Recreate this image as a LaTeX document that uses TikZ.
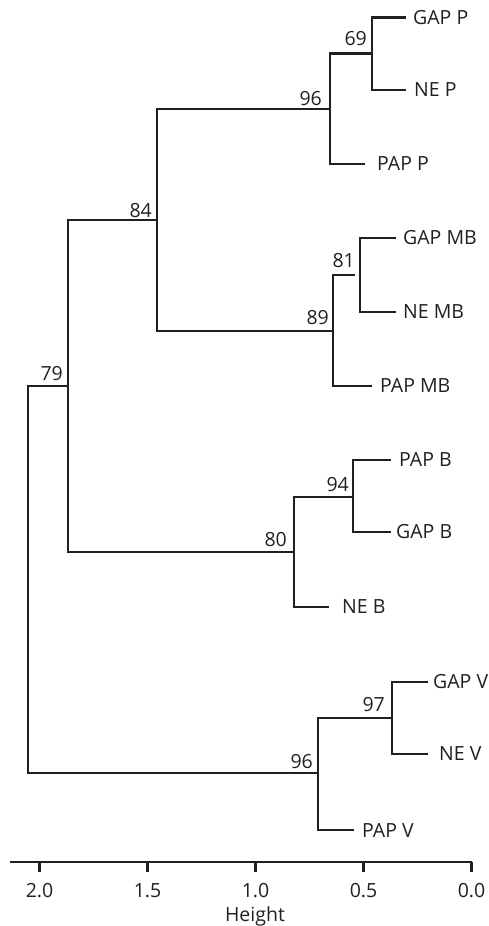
\documentclass[tikz,border=0pt]{standalone}
\usepackage{fontspec}
\setmainfont{Open Sans}
\definecolor{ink}{HTML}{231F20}
\begin{document}
\begin{tikzpicture}[x=1pt,y=-1pt,
  branch/.style={line width=2.8pt,line cap=rect,line join=miter,color=ink},
  leaf/.style={anchor=west,inner sep=0pt,font=\fontsize{19.5}{21}\selectfont,text=ink},
  boot/.style={anchor=base east,inner sep=0pt,font=\fontsize{19.5}{21}\selectfont,text=ink},
  tick/.style={anchor=base,inner sep=0pt,font=\fontsize{19.5}{21}\selectfont,text=ink}]
\useasboundingbox (0,0) rectangle (489,926);
% internal nodes
\coordinate (root) at (28,386);
\coordinate (n79) at (68,386);
\coordinate (n84) at (157,220);
\coordinate (n96P) at (330,109);
\coordinate (n69) at (372,53.5);
\coordinate (n89) at (333,331);
\coordinate (n81) at (360,275);
\coordinate (g81) at (354,275);
\coordinate (n80) at (294,552);
\coordinate (n94) at (353,497);
\coordinate (n96V) at (318,773);
\coordinate (n97) at (392,718);
% leaf ends
\coordinate (eGAPP) at (405,17.5);
\coordinate (eNEP) at (405,90);
\coordinate (ePAPP) at (364,164);
\coordinate (eGAPMB) at (395,238);
\coordinate (eNEMB) at (395,312);
\coordinate (ePAPMB) at (371,386);
\coordinate (ePAPB) at (390,460);
\coordinate (eGAPB) at (390,532);
\coordinate (eNEB) at (328,607);
\coordinate (eGAPV) at (427,682);
\coordinate (eNEV) at (427,754);
\coordinate (ePAPV) at (353,830);
% leaf labels
\node[leaf] (GAPP) at ([xshift=8pt]eGAPP) {GAP P};
\node[leaf] (NEP) at ([xshift=9pt]eNEP) {NE P};
\node[leaf] (PAPP) at ([xshift=13pt]ePAPP) {PAP P};
\node[leaf] (GAPMB) at ([xshift=8pt]eGAPMB) {GAP MB};
\node[leaf] (NEMB) at ([xshift=8pt]eNEMB) {NE MB};
\node[leaf] (PAPMB) at ([xshift=9pt]ePAPMB) {PAP MB};
\node[leaf] (PAPB) at ([xshift=9pt]ePAPB) {PAP B};
\node[leaf] (GAPB) at ([xshift=6pt]eGAPB) {GAP B};
\node[leaf] (NEB) at ([xshift=14pt]eNEB) {NE B};
\node[leaf] (GAPV) at ([xshift=6pt]eGAPV) {GAP V};
\node[leaf] (NEV) at ([xshift=12pt]eNEV) {NE V};
\node[leaf] (PAPV) at ([xshift=9pt]ePAPV) {PAP V};
% branches
\draw[branch] (root |- n79) -- (n79);
\draw[branch] (root) -- (root |- n96V) -- (n96V);
\draw[branch] (n79 |- n84) -- (n79 |- n80) -- (n80);
\draw[branch] (n84) -- (n79 |- n84);
\draw[branch] (n84 |- n96P) -- (n84 |- n89) -- (n89);
\draw[branch] (n84 |- n96P) -- (n96P);
\draw[branch] (n96P |- n69) -- (n96P |- ePAPP) -- (ePAPP);
\draw[branch] (n96P |- n69) -- (n69);
\draw[branch] (n69 |- eGAPP) -- (n69 |- eNEP) -- (eNEP);
\draw[branch] (n69 |- eGAPP) -- (eGAPP);
\draw[branch] (n89 |- n81) -- (n89 |- ePAPMB) -- (ePAPMB);
\draw[branch] (n89 |- n81) -- (g81);
\draw[branch] (n81 |- eGAPMB) -- (n81 |- eNEMB) -- (eNEMB);
\draw[branch] (n81 |- eGAPMB) -- (eGAPMB);
\draw[branch] (n80 |- n94) -- (n80 |- eNEB) -- (eNEB);
\draw[branch] (n80 |- n94) -- (n94);
\draw[branch] (n94 |- ePAPB) -- (n94 |- eGAPB) -- (eGAPB);
\draw[branch] (n94 |- ePAPB) -- (ePAPB);
\draw[branch] (n96V |- n97) -- (n96V |- ePAPV) -- (ePAPV);
\draw[branch] (n96V |- n97) -- (n97);
\draw[branch] (n97 |- eGAPV) -- (n97 |- eNEV) -- (eNEV);
\draw[branch] (n97 |- eGAPV) -- (eGAPV);
% bootstrap values
\node[boot] (b69) at (367,45) {69};
\node[boot] (b96P) at (322,105) {96};
\node[boot] (b84) at (152,217) {84};
\node[boot] (b81) at (355,267) {81};
\node[boot] (b89) at (329,324) {89};
\node[boot] (b79) at (63,380) {79};
\node[boot] (b94) at (349,491) {94};
\node[boot] (b80) at (287,546) {80};
\node[boot] (b97) at (385,711) {97};
\node[boot] (b96V) at (313,768) {96};
% axis
\coordinate (axL) at (10,862);
\coordinate (axR) at (471.5,862);
\draw[line width=2.8pt,color=ink] (axL) -- (axR);
\foreach \h/\lab/\k in {0/0.0/a,0.5/0.5/b,1/1.0/c,1.5/1.5/d,2/2.0/e}{
  \coordinate (t\k) at ({471.5-216*\h},862);
  \draw[line width=2.8pt,color=ink] (t\k) -- ++(0,10);
  \node[tick] (l\k) at ({471.5-216*\h},897) {\lab};
}
\node[tick] (ht) at (255,921) {Height};
\end{tikzpicture}
\end{document}
